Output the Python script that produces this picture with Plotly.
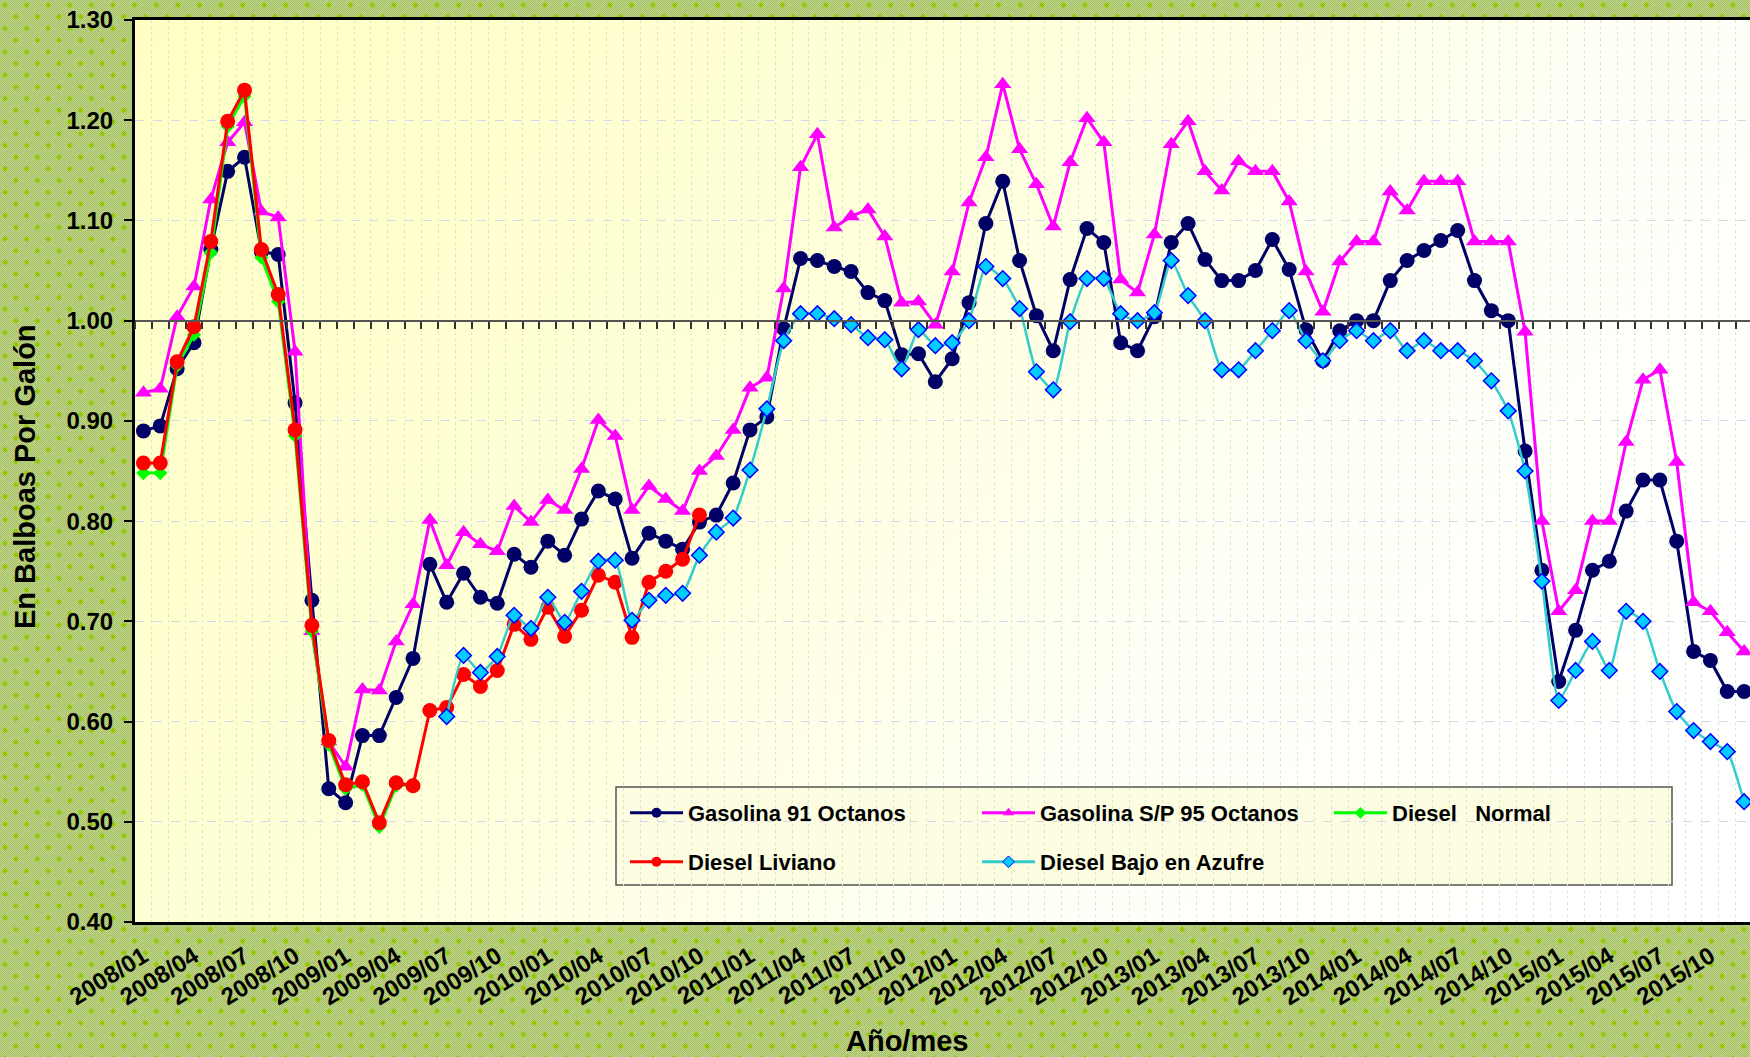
import base64
import plotly.graph_objects as go

# ---------------- data ----------------
months = [f"{y}/{m:02d}" for y in range(2008, 2016) for m in range(1, 13)]
tick_every = 3

gasolina_91 = [
    0.890, 0.895, 0.952, 0.978, 1.071, 1.149, 1.163, 1.069, 1.066, 0.918, 0.721, 0.533,
    0.519, 0.586, 0.586, 0.624, 0.663, 0.757, 0.719, 0.748, 0.724, 0.718, 0.767, 0.754,
    0.780, 0.766, 0.802, 0.830, 0.822, 0.763, 0.788, 0.780, 0.772, 0.799, 0.806, 0.838,
    0.891, 0.904, 0.992, 1.062, 1.060, 1.054, 1.049, 1.028, 1.020, 0.966, 0.967, 0.939,
    0.962, 1.018, 1.097, 1.139, 1.060, 1.005, 0.970, 1.041, 1.092, 1.078, 0.978, 0.970,
    1.004, 1.078, 1.097, 1.061, 1.040, 1.040, 1.050, 1.081, 1.051, 0.991, 0.960, 0.990,
    1.000, 1.000, 1.040, 1.060, 1.070, 1.080, 1.090, 1.040, 1.010, 1.000, 0.870, 0.751,
    0.640, 0.691, 0.751, 0.760, 0.810, 0.841, 0.841, 0.780, 0.670, 0.661, 0.630, 0.630,
]
gasolina_95 = [
    0.928, 0.932, 1.004, 1.034, 1.121, 1.178, 1.198, 1.109, 1.103, 0.969, 0.690, 0.580,
    0.555, 0.632, 0.631, 0.680, 0.717, 0.801, 0.756, 0.789, 0.777, 0.770, 0.815, 0.799,
    0.821, 0.811, 0.852, 0.901, 0.885, 0.811, 0.835, 0.822, 0.810, 0.850, 0.865, 0.891,
    0.933, 0.943, 1.032, 1.153, 1.186, 1.093, 1.104, 1.111, 1.084, 1.018, 1.019, 0.996,
    1.049, 1.118, 1.163, 1.236, 1.171, 1.136, 1.094, 1.158, 1.202, 1.178, 1.041, 1.028,
    1.086, 1.176, 1.199, 1.149, 1.130, 1.159, 1.149, 1.149, 1.119, 1.049, 1.009, 1.059,
    1.079, 1.079, 1.129, 1.110, 1.139, 1.139, 1.139, 1.079, 1.079, 1.079, 0.989, 0.800,
    0.710, 0.731, 0.800, 0.800, 0.879, 0.941, 0.951, 0.859, 0.719, 0.710, 0.689, 0.670,
]
diesel_normal_start = 0
diesel_normal = [
    0.848, 0.848, 0.955, 0.986, 1.068, 1.194, 1.224, 1.063, 1.019, 0.885, 0.690, 0.577,
    0.533, 0.537, 0.495, 0.536, 0.537,
]
diesel_liviano_start = 0
diesel_liviano = [
    0.858, 0.858, 0.959, 0.994, 1.079, 1.199, 1.230, 1.071, 1.026, 0.891, 0.696, 0.581,
    0.537, 0.540, 0.499, 0.539, 0.536, 0.611, 0.614, 0.647, 0.635, 0.651, 0.697, 0.682,
    0.714, 0.685, 0.711, 0.746, 0.739, 0.684, 0.739, 0.750, 0.762, 0.806,
]
diesel_azufre_start = 18
diesel_azufre = [
    0.605, 0.666, 0.649, 0.665, 0.706, 0.693,
    0.724, 0.699, 0.730, 0.760, 0.761, 0.701, 0.721, 0.726, 0.728, 0.766, 0.789, 0.803,
    0.851, 0.912, 0.980, 1.007, 1.007, 1.002, 0.996, 0.983, 0.981, 0.952, 0.991, 0.975,
    0.978, 1.000, 1.054, 1.042, 1.012, 0.949, 0.931, 0.999, 1.042, 1.042, 1.007, 1.000,
    1.008, 1.060, 1.025, 1.000, 0.951, 0.951, 0.970, 0.990, 1.010, 0.980, 0.960, 0.980,
    0.990, 0.980, 0.990, 0.970, 0.980, 0.970, 0.970, 0.960, 0.940, 0.910, 0.850, 0.740,
    0.621, 0.651, 0.680, 0.651, 0.710, 0.700, 0.650, 0.610, 0.591, 0.580, 0.570, 0.520,
]

series_names = ["Gasolina 91 Octanos", "Gasolina S/P 95 Octanos", "Diesel\u00a0\u00a0\u00a0Normal",
                "Diesel Liviano", "Diesel Bajo en Azufre"]
y_title = "En Balboas Por Galón"
x_title = "Año/mes"

# ---------------- styling ----------------
FONT = "Liberation Sans, Arial, Helvetica, sans-serif"
NAVY = "#000066"
MAGENTA = "#ff00ff"
GREEN = "#00ff00"
RED = "#ff0000"
TEAL = "#33cccc"
AQUA = "#00ccff"
BLUE = "#0000ff"

W, H = 1750, 1057
ML, MR, MT, MB = 135, 0, 20, 135
PW, PH = W - ML - MR, H - MT - MB
Y0, Y1 = 0.40, 1.30
X0, X1 = -0.5, 95.35


def px_x(p):
    return (p - ML) / PW


def px_y(p):
    return (H - MB - p) / PH


svg = f"""<svg xmlns='http://www.w3.org/2000/svg' width='{W}' height='{H}' viewBox='0 0 {W} {H}'>
<defs>
<pattern id='c' width='2' height='2' patternUnits='userSpaceOnUse'>
<rect width='2' height='2' fill='#c6cdb6'/>
<rect width='1' height='1' fill='#a0c83a'/>
<rect x='1' y='1' width='1' height='1' fill='#a0c83a'/>
</pattern>
<pattern id='d' width='21.6' height='23.4' patternUnits='userSpaceOnUse'>
<path d='M5,2 L8,5 L5,8 L2,5 Z' fill='#94c800'/>
<path d='M15.8,13.7 L18.8,16.7 L15.8,19.7 L12.8,16.7 Z' fill='#94c800'/>
</pattern>
<linearGradient id='g' gradientUnits='userSpaceOnUse' x1='{ML}' y1='{MT}' x2='1450' y2='1000'>
<stop offset='0' stop-color='#ffffc4'/>
<stop offset='0.4' stop-color='#ffffd8'/>
<stop offset='0.75' stop-color='#fffff8'/>
<stop offset='1' stop-color='#ffffff'/>
</linearGradient>
</defs>
<rect width='{W}' height='{H}' fill='url(#c)'/>
<rect width='{W}' height='{H}' fill='url(#d)'/>
<rect x='{ML}' y='{MT}' width='{PW}' height='{PH}' fill='url(#g)'/>
</svg>"""
bg_uri = "data:image/svg+xml;base64," + base64.b64encode(svg.encode()).decode()

fig = go.Figure()

specs = [
    (gasolina_91, 0, dict(color=NAVY, width=3), dict(symbol="circle", size=15, color=NAVY),
     dict(symbol="circle", size=10, color=NAVY), "linear"),
    (gasolina_95, 0, dict(color=MAGENTA, width=3), dict(symbol="triangle-up", size=15, color=MAGENTA),
     dict(symbol="triangle-up", size=10, color=MAGENTA), "linear"),
    (diesel_normal, diesel_normal_start, dict(color=GREEN, width=3),
     dict(symbol="diamond", size=11, color=GREEN),
     dict(symbol="diamond", size=9, color=GREEN), "linear"),
    (diesel_liviano, diesel_liviano_start, dict(color=RED, width=3),
     dict(symbol="circle", size=15, color=RED),
     dict(symbol="circle", size=10, color=RED), "linear"),
    (diesel_azufre, diesel_azufre_start, dict(color=TEAL, width=2.5),
     dict(symbol="diamond", size=12, color=AQUA, line=dict(color=BLUE, width=1.5)),
     dict(symbol="diamond", size=9, color=AQUA, line=dict(color=BLUE, width=1)), "spline"),
]

for vals, start, line, marker, _, shape in specs:
    xs = list(range(start, start + len(vals)))
    fig.add_trace(go.Scatter(
        x=xs, y=vals, mode="lines+markers",
        line=dict(shape=shape, smoothing=0.5, **line) if shape == "spline" else line,
        marker=marker, showlegend=False, hoverinfo="skip"))

# legend-only entries (small markers like the original legend)
legend_ids = ["legend", "legend", "legend", "legend2", "legend2"]
for name, (vals, start, line, marker, lmarker, shape), lid in zip(series_names, specs, legend_ids):
    fig.add_trace(go.Scatter(
        x=[None], y=[None], mode="lines+markers", name=name,
        line=dict(color=line["color"], width=3), marker=lmarker,
        legend=lid, showlegend=True, hoverinfo="skip"))

# helper trace for the category axis crossing at 1.00
fig.add_trace(go.Scatter(x=[None], y=[None], xaxis="x2", yaxis="y", showlegend=False, hoverinfo="skip"))

tickvals = list(range(0, len(months), tick_every))
ticktext = [months[i] for i in tickvals]
boundaries = [i - 0.5 for i in range(len(months) + 1)]

legend_common = dict(
    orientation="h", xanchor="left", yanchor="middle",
    bgcolor="rgba(0,0,0,0)", borderwidth=0, itemwidth=53,
    font=dict(family=FONT, size=22, color="black", weight="bold"),
    entrywidth=284, entrywidthmode="pixels", itemclick=False, itemdoubleclick=False,
)

fig.update_layout(
    width=W, height=H, autosize=False,
    margin=dict(l=ML, r=MR, t=MT, b=MB, pad=0),
    paper_bgcolor="#b4c98a",
    plot_bgcolor="rgba(0,0,0,0)",
    font=dict(family=FONT, color="black"),
    images=[dict(source=bg_uri, xref="paper", yref="paper",
                 x=px_x(0), y=px_y(0), sizex=W / PW, sizey=H / PH,
                 xanchor="left", yanchor="top", sizing="stretch", layer="below")],
    xaxis=dict(
        range=[X0, X1], tickmode="array", tickvals=tickvals, ticktext=ticktext,
        tickangle=-32, tickfont=dict(family=FONT, size=24, color="black", weight="bold"),
        ticklabelstandoff=8,
        showline=True, linecolor="black", linewidth=3, mirror=True,
        ticks="", showgrid=False, zeroline=False, fixedrange=True,
    ),
    xaxis2=dict(
        overlaying="x", anchor="free", position=(1.0 - Y0) / (Y1 - Y0), side="bottom",
        range=[X0, X1], tickmode="array", tickvals=boundaries,
        ticks="outside", ticklen=7, tickwidth=1.5, tickcolor="#333333",
        showline=True, linecolor="#555555", linewidth=2, showticklabels=False,
        showgrid=True, gridcolor="#cfeec8", griddash="dot", gridwidth=1,
        zeroline=False, fixedrange=True,
    ),
    yaxis=dict(
        range=[Y0, Y1], tickmode="linear", tick0=Y0, dtick=0.1, tickformat=".2f",
        tickfont=dict(family=FONT, size=24, color="black", weight="bold"),
        showline=True, linecolor="black", linewidth=3,
        ticks="outside", ticklen=8, tickwidth=2, tickcolor="black", ticklabelstandoff=6,
        showgrid=True, gridcolor="#d6d6f0", griddash="dash", gridwidth=1,
        zeroline=False, fixedrange=True,
    ),
    legend=dict(x=px_x(625), y=px_y(813), **legend_common),
    legend2=dict(x=px_x(625), y=px_y(862), **legend_common),
    shapes=[dict(type="rect", xref="paper", yref="paper",
                 x0=px_x(616), x1=px_x(1672), y0=px_y(885), y1=px_y(787),
                 fillcolor="#fdfde2", line=dict(color="#555555", width=1.5), layer="between")],
    annotations=[
        dict(text=y_title, xref="paper", yref="paper", x=px_x(25), y=px_y(477),
             textangle=-90, showarrow=False, xanchor="center", yanchor="middle",
             font=dict(family=FONT, size=29, color="black", weight="bold")),
        dict(text=x_title, xref="paper", yref="paper", x=px_x(907), y=px_y(1041),
             showarrow=False, xanchor="center", yanchor="middle",
             font=dict(family=FONT, size=29, color="black", weight="bold")),
    ],
)

fig.write_html("out.html", config={"displayModeBar": False},
               post_script="document.body.style.margin='0';document.body.style.overflow='hidden';")
